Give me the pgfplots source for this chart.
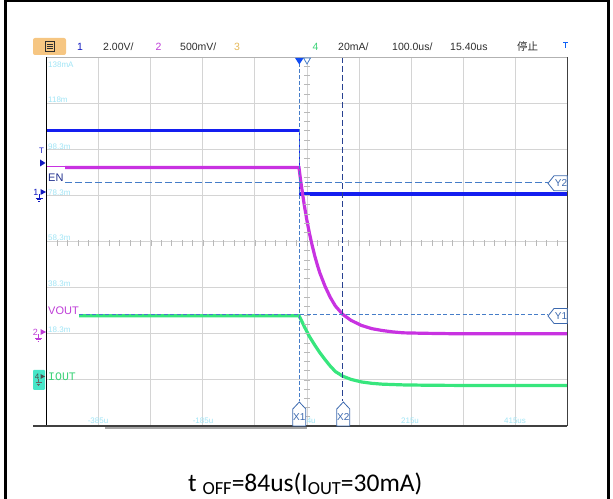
\documentclass[border=0pt]{standalone}
\usepackage{fontspec}
\setmainfont{Liberation Sans}
\newfontfamily\capfont{Carlito}
\newfontfamily\cjk{Noto Sans CJK SC}
\newfontfamily\monofont{Liberation Mono}
\usepackage{pgfplots}
\pgfplotsset{compat=1.18}
\definecolor{chA}{RGB}{20,30,240}
\definecolor{chB}{RGB}{200,50,225}
\definecolor{chD}{RGB}{55,230,125}
\definecolor{curA}{RGB}{70,125,200}
\definecolor{curB}{RGB}{40,65,145}
\definecolor{lab}{RGB}{160,228,245}
\definecolor{gridc}{RGB}{212,212,212}
\definecolor{btn}{RGB}{246,198,130}
\definecolor{bartext}{RGB}{45,45,45}
\definecolor{mkr}{RGB}{60,105,175}
\definecolor{enc}{RGB}{30,45,140}
\definecolor{voc}{RGB}{190,60,215}
\definecolor{ioc}{RGB}{60,210,120}
\definecolor{boxc}{RGB}{70,230,200}
\begin{document}
\begin{tikzpicture}[x=1bp,y=1bp]
\path[use as bounding box] (0,0) rectangle (613,499);
% outer frame
\draw[black, line width=2.5bp] (5.5,0) -- (5.5,497.75) -- (608.5,497.75) -- (608.5,0);
% top bar
\fill[btn, rounded corners=2bp] (33,444) rectangle (66,461);
\draw[bartext, line width=0.7bp] (45,448) rectangle (54.5,457.5);
\draw[bartext, line width=0.7bp] (47,450.5) -- (52.5,450.5) (47,452.75) -- (52.5,452.75) (47,455) -- (52.5,455);
\begin{scope}[every node/.style={anchor=base west, inner sep=0pt, font=\fontsize{10.5bp}{12bp}\selectfont}]
\node[text=chA!80!black] at (77,448) {1};
\node[text=bartext] at (103,448) {2.00V/};
\node[text=voc] at (155.5,448) {2};
\node[text=bartext] at (180,448) {500mV/};
\node[text={rgb,255:red,230;green,185;blue,90}] at (234,448) {3};
\node[text=ioc] at (312.5,448) {4};
\node[text=bartext] at (338,448) {20mA/};
\node[text=bartext] at (392,448) {100.0us/};
\node[text=bartext] at (450,448) {15.40us};
\node[text=bartext] at (517,448) {\cjk 停止};
\end{scope}
\draw[chA!70!cyan, line width=1bp] (563,456) -- (568,456) (565.5,456) -- (565.5,451);

\begin{axis}[
  at={(46.7bp,73bp)}, anchor=south west,
  width=520.6bp, height=369bp, scale only axis,
  xmin=-484.6, xmax=515.4, ymin=-4, ymax=4,
  xtick={-384.6,-284.6,-184.6,-84.6,15.4,115.4,215.4,315.4,415.4},
  ytick={-3,-2,-1,0,1,2,3},
  xticklabels={}, yticklabels={},
  major tick length=0pt,
  grid=major, grid style={gridc, line width=0.9bp},
  axis line style={draw=none},
]
% CH1 EN (blue)
\addplot[chA, line width=3.2bp] coordinates {(-484.6,2.40) (0,2.40)};
\addplot[chA, line width=0.8bp] coordinates {(0,2.40) (0,1.03)};
\addplot[chA, line width=3.2bp] coordinates {(0,1.03) (515.4,1.03)};
% CH2 VOUT (magenta)
\addplot[chB, line width=1bp] coordinates {(-484.6,1.62) (-449.4,1.62)};
\addplot[chB, line width=3.2bp] coordinates {
(-449.4,1.605) (0,1.605) (2.5,1.38) (5,1.18) (7.5,0.99) (10,0.80) (15,0.47) (20,0.18)
(25,-0.07) (30,-0.30) (35,-0.50) (40,-0.68) (50,-0.97) (60,-1.21) (70,-1.40)
(84,-1.58) (100,-1.71) (120,-1.82) (140,-1.89) (160,-1.93) (180,-1.96)
(200,-1.98) (240,-1.99) (300,-2.00) (515.4,-2.00)};
% CH4 IOUT (green)
\addplot[chD, line width=3.2bp] coordinates {
(-422.5,-1.61) (0,-1.61) (5,-1.72) (10,-1.84) (20,-2.06) (30,-2.24) (40,-2.41)
(50,-2.56) (60,-2.70) (70,-2.82) (84,-2.92) (100,-2.99) (120,-3.045)
(140,-3.075) (160,-3.093) (200,-3.109) (250,-3.117) (300,-3.12) (515.4,-3.12)};
% cursors
\draw[curA, line width=0.8bp, dash pattern=on 4bp off 2bp] (axis cs:0,4) -- (axis cs:0,-3.45);
\draw[curB, line width=0.8bp, dash pattern=on 6bp off 3bp] (axis cs:84,4) -- (axis cs:84,-3.45);
\draw[curA, line width=0.8bp, dash pattern=on 7bp off 3bp] (axis cs:-449.4,1.29) -- (axis cs:478.2,1.29);
\draw[curA, line width=0.8bp, dash pattern=on 4bp off 2.5bp] (axis cs:-422.5,-1.584) -- (axis cs:478.2,-1.584);
\end{axis}

% minor ticks on centre lines
\foreach \k in {1,...,39} {
  \draw[gray!55, line width=0.6bp] (304,{73+\k*9.225}) -- (310,{73+\k*9.225});
}
\foreach \k in {1,...,49} {
  \draw[gray!55, line width=0.6bp] ({46.7+\k*10.412},253) -- ({46.7+\k*10.412},259);
}

% screen borders
\draw[gray!60, line width=0.9bp] (46.7,442) -- (567.3,442);
\draw[gray!50!black, line width=0.9bp] (567.3,73) -- (567.3,442);
\draw[black, line width=1.5bp] (46.7,73) -- (46.7,442);
\draw[black!75, line width=1.1bp] (33,73) -- (567.3,73);
\draw[gray!70, line width=2bp] (105,70.5) -- (307,70.5);

% y scale labels (light cyan)
\begin{scope}[every node/.style={anchor=west, inner sep=0pt, text=lab, font=\fontsize{8bp}{9bp}\selectfont}]
\node at (48,434.5) {138mA};
\node at (48,399) {118m};
\node at (48,352.5) {98.3m};
\node at (48,306.5) {78.3m};
\node at (48,261) {58.3m};
\node at (48,215) {38.3m};
\node at (48,169) {18.3m};
\end{scope}
\begin{scope}[every node/.style={anchor=center, inner sep=0pt, text=lab, font=\fontsize{8bp}{9bp}\selectfont}]
\node at (98,78) {-385u};
\node at (203,78) {-185u};
\node at (309,78) {14u};
\node at (410,78) {215u};
\node at (515,78) {415us};
\end{scope}

% trace labels
\node[anchor=west, inner sep=0pt, text=enc, font=\fontsize{11bp}{12bp}\selectfont] at (48,321) {EN};
\node[anchor=west, inner sep=0pt, text=voc, font=\fontsize{11bp}{12bp}\selectfont] at (48,188) {VOUT};
\node[anchor=west, inner sep=0pt, text=ioc, font=\monofont\fontsize{11.5bp}{12bp}\selectfont] at (48,122) {IOUT};

% trigger markers at top
\fill[chA!80!cyan] (295,441) -- (303.6,441) -- (299.3,434.5) -- cycle;
\draw[curA, line width=0.8bp, fill=white] (303.5,441) -- (310.5,441) -- (307,435) -- cycle;

% X cursor markers
\foreach \xx/\tt in {299.3/X1, 343.3/X2} {
  \draw[mkr, line width=0.8bp, fill=white] (\xx,97) -- (\xx+6.5,90) -- (\xx+6.5,73) -- (\xx-6.5,73) -- (\xx-6.5,90) -- cycle;
  \node[text=mkr, inner sep=0pt, font=\fontsize{10bp}{11bp}\selectfont] at (\xx,81.5) {\tt};
}
% Y cursor markers
\foreach \yy/\tt in {315.7/Y2, 183/Y1} {
  \draw[mkr, line width=0.8bp, fill=white] (548,\yy) -- (554,\yy+7.5) -- (567.3,\yy+7.5) -- (567.3,\yy-7.5) -- (554,\yy-7.5) -- cycle;
  \node[text=mkr, inner sep=0pt, font=\fontsize{10bp}{11bp}\selectfont] at (561,\yy) {\tt};
}

% left channel markers
\node[text=chA!80!black, inner sep=0pt, font=\fontsize{8bp}{9bp}\selectfont] at (41.5,348) {T};
\fill[chA!80!black] (40,339.5) -- (40,332.5) -- (45.5,336) -- cycle;
% ch1
\node[text=chA!80!black, inner sep=0pt, font=\fontsize{9bp}{10bp}\selectfont] at (36,307) {1};
\fill[chA!80!black] (40.5,310) -- (40.5,304) -- (46,307) -- cycle;
\draw[chA!80!black, line width=0.7bp] (39,305) -- (39,301) (35.5,301) -- (42.5,301) (36.8,299.3) -- (41.2,299.3) (38.2,297.6) -- (39.8,297.6);
% ch2
\node[text=voc, inner sep=0pt, font=\fontsize{9bp}{10bp}\selectfont] at (35.5,167) {2};
\fill[voc] (40.5,170) -- (40.5,164) -- (46,167) -- cycle;
\draw[voc, line width=0.7bp] (38.5,165) -- (38.5,161) (35,161) -- (42,161) (36.3,159.3) -- (40.7,159.3) (37.7,157.6) -- (39.3,157.6);
% ch4
\fill[boxc, rounded corners=1bp] (33,109) rectangle (45,129);
\node[text=black!70, inner sep=0pt, font=\fontsize{8bp}{9bp}\selectfont] at (37,122.5) {4};
\fill[black!70] (40.5,125) -- (40.5,120) -- (45,122.5) -- cycle;
\draw[black!60, line width=0.6bp] (38.5,120) -- (38.5,116.5) (35.5,116.5) -- (41.5,116.5) (36.7,115) -- (40.3,115) (37.8,113.5) -- (39.2,113.5);

% caption
\node[anchor=base west, inner sep=0pt] at (188,7) {\capfont\fontsize{25.5bp}{30bp}\selectfont t {\fontsize{18.5bp}{20bp}\selectfont\raisebox{-2.5bp}{OFF}}=84us(I{\fontsize{18.5bp}{20bp}\selectfont\raisebox{-2.5bp}{OUT}}=30mA)};
\end{tikzpicture}
\end{document}
